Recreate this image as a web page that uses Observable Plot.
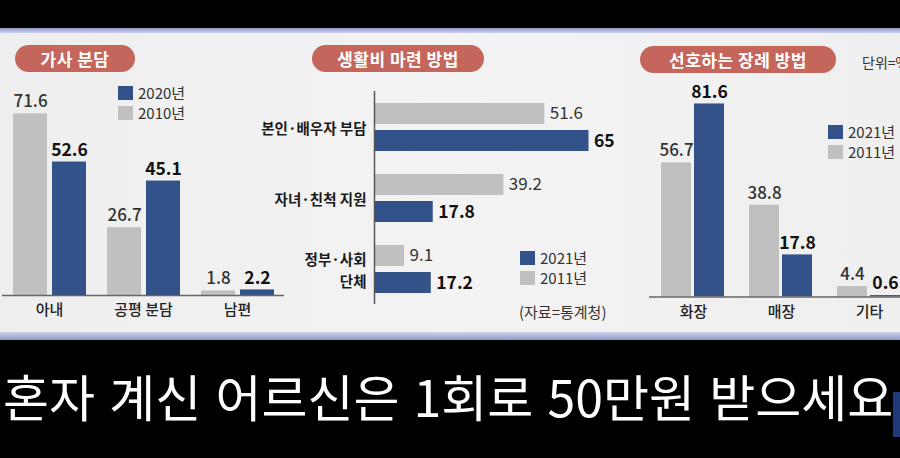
<!DOCTYPE html>
<html><head><meta charset="utf-8">
<script src="https://cdn.jsdelivr.net/npm/d3@7"></script>
<script src="https://cdn.jsdelivr.net/npm/@observablehq/plot@0.6"></script>
<style>
html,body{margin:0;padding:0;background:#000;}
#root{position:relative;width:900px;height:458px;overflow:hidden;background:#000;font-family:"Noto Sans CJK KR","Noto Sans",sans-serif;}
#panel{position:absolute;left:0;top:28px;width:900px;height:312px;background:linear-gradient(90deg,#eeeeee,#f3f3f3 50%,#efefef);}
.topband{position:absolute;left:0;top:28px;width:900px;height:5px;background:linear-gradient(#8e99c5,#ccd3ec);}
.botband{position:absolute;left:0;top:332px;width:900px;height:8px;background:linear-gradient(#cdd4ec,#8e99c5);}
.pill{position:absolute;height:27px;border-radius:14px;background:#c4665c;color:#fff;font-weight:700;font-size:17px;line-height:27px;text-align:center;letter-spacing:0.5px;}
.leg{position:absolute;font-size:15px;color:#333;line-height:20px;white-space:nowrap;}
.leg > div{height:20px;overflow:visible;}
.sw{display:inline-block;width:15px;height:14px;vertical-align:-1px;margin-right:5px;}
.chart{position:absolute;width:300px;height:260px;}
.chart svg{overflow:visible;max-width:none !important;}
#sub{position:absolute;left:3px;top:366px;color:#fff;font-size:50px;line-height:58px;word-spacing:3px;white-space:nowrap;}
</style>
</head><body>
<div id="root">
  <div id="panel"></div>
  <div class="topband"></div>
  <div class="botband"></div>
  <div class="pill" style="left:15px;top:45px;width:120px;">가사 분담</div>
  <div class="pill" style="left:312px;top:45px;width:172px;">생활비 마련 방법</div>
  <div class="pill" style="left:640px;top:46px;width:196px;">선호하는 장례 방법</div>
  <div class="leg" style="left:862px;top:52px;font-size:14px;">단위=%</div>
  <div id="c1" class="chart" style="left:0px;top:70px;"></div>
  <div id="c2" class="chart" style="left:300px;top:70px;width:320px;"></div>
  <div id="c3" class="chart" style="left:620px;top:70px;"></div>
  <div id="leg1" class="leg" style="left:118px;top:83px;"></div>
  <div id="leg2" class="leg" style="left:520px;top:248px;"></div>
  <div class="leg" style="left:519px;top:302px;font-size:15px;">(자료=통계청)</div>
  <div id="leg3" class="leg" style="left:828px;top:122px;"></div>
  <div id="sub">혼자 계신 어르신은 1회로 50만원 받으세요</div>
  <div style="position:absolute;left:893px;top:392px;width:7px;height:45px;background:#1f3a78;"></div>
</div>
<script>
// ---- data ----
const choresCats = ["아내", "공평 분담", "남편"];
const choresYears = ["2010년", "2020년"];
const chores2010 = [71.6, 26.7, 1.8];
const chores2020 = [52.6, 45.1, 2.2];

const livingCats = ["본인·배우자 부담", "자녀·친척 지원", "정부·사회 단체"];
const livingTickLabels = ["본인·배우자 부담", "자녀·친척 지원", "정부·사회\n단체"];
const livingYears = ["2011년", "2021년"];
const living2011 = [51.6, 39.2, 9.1];
const living2021 = [65, 17.8, 17.2];

const funeralCats = ["화장", "매장", "기타"];
const funeralYears = ["2011년", "2021년"];
const funeral2011 = [56.7, 38.8, 4.4];
const funeral2021 = [81.6, 17.8, 0.6];

const GREY = "#c0c0c0", BLUE = "#34528a";
const FONT = '"Noto Sans CJK KR","Noto Sans",sans-serif';

function rowsOf(cats, years, a, b) {
  return cats.flatMap((c, i) => [{cat: c, year: years[0], v: a[i]}, {cat: c, year: years[1], v: b[i]}]);
}

function vbar(cats, years, a, b, o) {
  const rows = rowsOf(cats, years, a, b);
  return Plot.plot({
    width: o.width, height: o.height,
    marginLeft: o.ml, marginRight: o.mr, marginTop: o.mt, marginBottom: o.mb,
    facet: {data: rows, x: "cat", marginTop: 0, marginBottom: 0, marginLeft: 0, marginRight: 0},
    fx: {domain: cats, padding: 0, axis: "bottom", label: null, tickSize: 0, tickPadding: o.tp},
    x: {domain: years, axis: null, paddingInner: o.pi, paddingOuter: o.po},
    y: {domain: [0, o.ymax], axis: null},
    color: {domain: years, range: [GREY, BLUE]},
    style: {fontFamily: FONT, fontSize: "15px", fontWeight: 500, color: "#222", background: "none", overflow: "visible"},
    marks: [
      Plot.barY(rows, {x: "year", y: "v", fill: "year"}),
      Plot.ruleY([0], {stroke: "#666", strokeWidth: 1.5}),
      Plot.text(rows, {filter: d => d.year === years[0], x: "year", y: "v", text: d => String(d.v), dy: -12, fontSize: 17, fill: "#333"}),
      Plot.text(rows, {filter: d => d.year === years[1], x: "year", y: "v", text: d => String(d.v), dy: -12, fontSize: 17.5, fontWeight: "bold", fill: "#111"})
    ]
  });
}

function hbar(cats, labels, years, a, b, o) {
  const rows = rowsOf(cats, years, a, b);
  const lab = new Map(cats.map((c, i) => [c, labels[i]]));
  return Plot.plot({
    width: o.width, height: o.height,
    marginLeft: o.ml, marginRight: o.mr, marginTop: o.mt, marginBottom: o.mb,
    facet: {data: rows, y: "cat", marginTop: 0, marginBottom: 0, marginLeft: 0, marginRight: 0},
    fy: {domain: cats, padding: 0, axis: null},
    y: {domain: years, axis: null, paddingInner: o.pi, paddingOuter: o.po},
    x: {domain: [0, o.xmax], axis: null},
    color: {domain: years, range: [GREY, BLUE]},
    style: {fontFamily: FONT, fontSize: "14px", color: "#222", background: "none", overflow: "visible"},
    marks: [
      Plot.barX(rows, {y: "year", x: "v", fill: "year"}),
      Plot.ruleX([0], {stroke: "#555", strokeWidth: 1.5}),
      Plot.text(rows, {filter: d => d.year === years[0], y: "year", x: "v", text: d => String(d.v), textAnchor: "start", dx: 5, fontSize: 17, fill: "#333"}),
      Plot.text(rows, {filter: d => d.year === years[1], y: "year", x: "v", text: d => String(d.v), textAnchor: "start", dx: 5, fontSize: 17.5, fontWeight: "bold", fill: "#111"}),
      Plot.text(rows, {filter: d => d.year === years[1], text: d => lab.get(d.cat), frameAnchor: "left", textAnchor: "end", dx: -8, fontSize: 14.5, fontWeight: 600, fill: "#1a1a1a", lineHeight: 1.5})
    ]
  });
}

document.getElementById("c1").appendChild(vbar(choresCats, choresYears, chores2010, chores2020,
  {width: 300, height: 260, ml: 2, mr: 16, mt: 22, mb: 35, tp: 9, pi: 0.13, po: 0.27, ymax: 80}));
document.getElementById("c2").appendChild(hbar(livingCats, livingTickLabels, livingYears, living2011, living2021,
  {width: 320, height: 260, ml: 74, mr: 15, mt: 20, mb: 25, pi: 0.232, po: 0.396, xmax: 70}));
document.getElementById("c3").appendChild(vbar(funeralCats, funeralYears, funeral2011, funeral2021,
  {width: 300, height: 260, ml: 29, mr: 7, mt: 13.6, mb: 33.5, tp: 9, pi: 0.09, po: 0.378, ymax: 90}));

function legend(id, years) {
  const el = document.getElementById(id);
  [[years[1], BLUE], [years[0], GREY]].forEach(([t, c]) => {
    const d = document.createElement("div");
    d.innerHTML = `<span class="sw" style="background:${c}"></span>${t}`;
    el.appendChild(d);
  });
}
legend("leg1", choresYears);
legend("leg2", livingYears);
legend("leg3", funeralYears);
</script>
</body></html>
